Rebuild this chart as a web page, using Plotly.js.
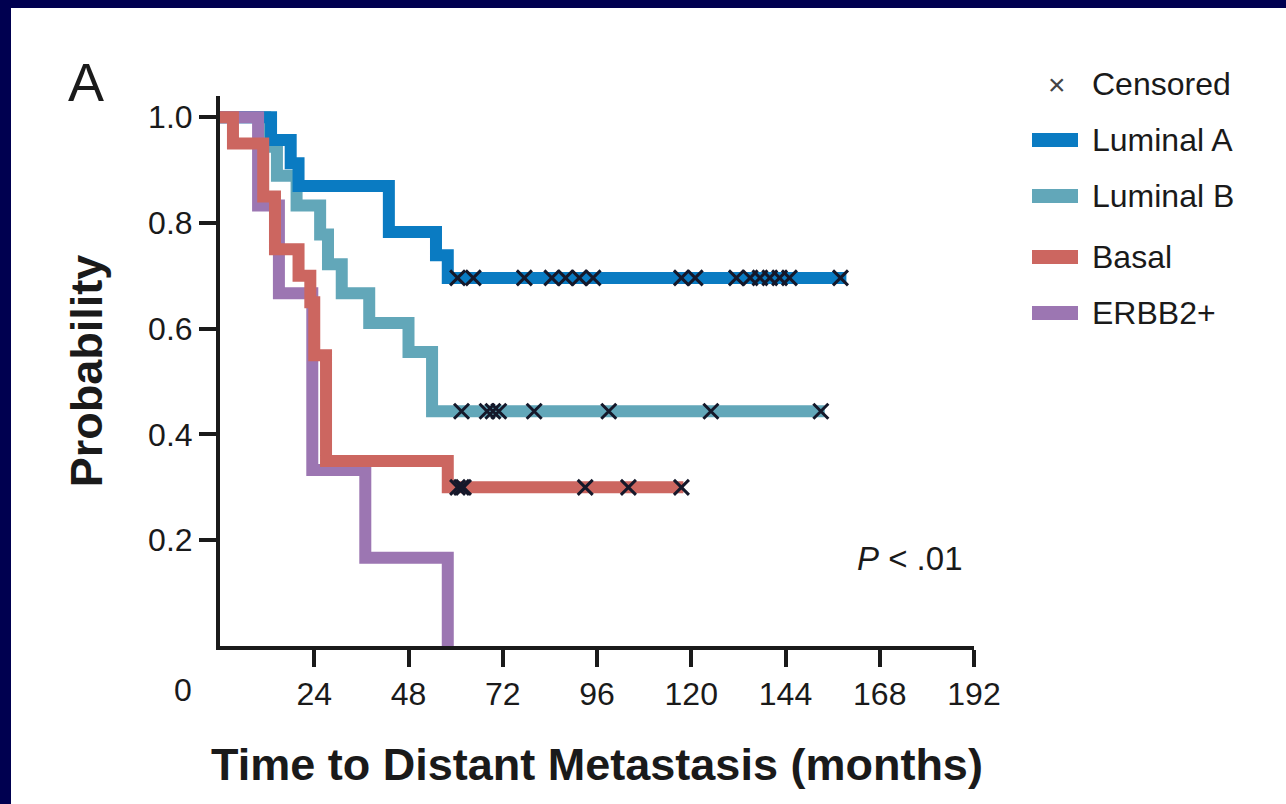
<!DOCTYPE html>
<html><head><meta charset="utf-8">
<script src="https://cdn.plot.ly/plotly-3.0.1.min.js"></script>
<style>
html,body{margin:0;padding:0;background:#000050;width:1286px;height:804px;overflow:hidden;}
#chart{position:absolute;left:11px;top:8px;width:1275px;height:796px;background:#fff;}
</style></head><body><div id="chart"></div>
<script>
// ---- data (months, survival probability) ----
const groups = ["Luminal A", "Luminal B", "Basal", "ERBB2+"];
const colors = ["#0a7bc2", "#62a7b9", "#cc6660", "#9c76b2"];

const lumA_t = [0, 13, 18, 20, 43, 55, 58, 159.5];
const lumA_s = [1.0, 0.957, 0.913, 0.870, 0.783, 0.739, 0.696, 0.696];
const lumA_cens = [60.5, 64.5, 77.5, 84.5, 88, 91.5, 95, 117.5, 121, 131.5, 135, 137.5, 140, 142.5, 145, 158];

const lumB_t = [0, 11.5, 14.5, 19.5, 25.5, 27.5, 31, 38, 48, 54, 154];
const lumB_s = [1.0, 0.944, 0.889, 0.833, 0.778, 0.722, 0.667, 0.611, 0.556, 0.444, 0.444];
const lumB_cens = [61.5, 68, 69.5, 71, 80, 99, 125, 153];

const basal_t = [0, 3.3, 11, 14, 20, 23, 24, 27, 58, 118];
const basal_s = [1.0, 0.95, 0.85, 0.75, 0.70, 0.65, 0.55, 0.35, 0.30, 0.30];
const basal_cens = [60.5, 61.5, 62, 93, 104, 117.5];

const erbb_t = [0, 9.7, 15, 23.5, 37, 58];
const erbb_s = [1.0, 0.833, 0.667, 0.333, 0.167, 0];

const xTickVals = [24, 48, 72, 96, 120, 144, 168, 192];
const yTickVals = [0.2, 0.4, 0.6, 0.8, 1.0];
const yTickText = ["0.2", "0.4", "0.6", "0.8", "1.0"];

// ---- helpers ----
function survAt(ts, ss, t) { let v = ss[0]; for (let i = 0; i < ts.length; i++) { if (ts[i] <= t) v = ss[i]; } return v; }
const titleFont = {family: '"Liberation Sans", Arial', size: 45, color: '#1a1a1a', weight: 'bold'};
const tickFont = {family: '"Liberation Sans", Arial', size: 32, color: '#1a1a1a'};
const dark = '#15182a';

// drawing order: Luminal B, Luminal A, ERBB2+, Basal (top)
const lineSets = [
  [lumB_t, lumB_s, 1],
  [lumA_t, lumA_s, 0],
  [erbb_t, erbb_s, 3],
  [basal_t, basal_s, 2]
];
const traces = lineSets.map(([t, s, gi]) => ({
  x: t, y: s, type: 'scatter', mode: 'lines', name: groups[gi],
  line: {shape: 'hv', width: 12, color: colors[gi]}, showlegend: false, hoverinfo: 'skip'
}));
const censSets = [[lumA_t, lumA_s, lumA_cens], [lumB_t, lumB_s, lumB_cens], [basal_t, basal_s, basal_cens]];
censSets.forEach(([t, s, c]) => {
  traces.push({
    x: c, y: c.map(v => survAt(t, s, v)), type: 'scatter', mode: 'markers', name: 'Censored',
    marker: {symbol: 'x-thin-open', size: 15, color: dark, line: {width: 3, color: dark}},
    showlegend: false, cliponaxis: false, hoverinfo: 'skip'
  });
});

// ---- layout ----
const W = 754, H = 550; // plot area px
const px = p => (p - 220) / W;   // page x -> paper
const py = p => (646 - p) / H;   // page y -> paper

const annotations = [
  {text: 'A', xref: 'paper', yref: 'paper', x: px(66), y: py(82), xanchor: 'left', yanchor: 'middle', showarrow: false,
   font: {family: '"Liberation Sans", Arial', size: 54, color: '#1a1a1a'}},
  {text: '0', xref: 'paper', yref: 'paper', x: px(183), y: py(690), xanchor: 'center', yanchor: 'middle', showarrow: false, font: tickFont},
  {text: '<i>P</i> < .01', xref: 'paper', yref: 'paper', x: px(855), y: py(558), xanchor: 'left', yanchor: 'middle', showarrow: false,
   font: {family: '"Liberation Sans", Arial', size: 33, color: '#1a1a1a'}},
  {text: '×', xref: 'paper', yref: 'paper', x: px(1057), y: py(84), xanchor: 'center', yanchor: 'middle', showarrow: false,
   font: {family: '"Liberation Sans", Arial', size: 30, color: '#444'}},
  {text: 'Censored', xref: 'paper', yref: 'paper', x: px(1090), y: py(84), xanchor: 'left', yanchor: 'middle', showarrow: false,
   font: {family: '"Liberation Sans", Arial', size: 32, color: '#1a1a1a'}}
];
const legendY = [140, 196, 257, 313];
const shapes = [];
groups.forEach((g, i) => {
  shapes.push({type: 'rect', xref: 'paper', yref: 'paper', x0: px(1032), x1: px(1078), y0: py(legendY[i] + 7), y1: py(legendY[i] - 7),
    fillcolor: colors[i], line: {width: 0}});
  annotations.push({text: g, xref: 'paper', yref: 'paper', x: px(1090), y: py(legendY[i]), xanchor: 'left', yanchor: 'middle', showarrow: false,
    font: {family: '"Liberation Sans", Arial', size: 32, color: '#1a1a1a'}});
});

const layout = {
  width: 1275, height: 796,
  margin: {l: 209, r: 312, t: 88, b: 158},
  paper_bgcolor: '#ffffff', plot_bgcolor: '#ffffff',
  showlegend: false,
  xaxis: {range: [0, 192], tickvals: xTickVals, ticktext: xTickVals.map(String), ticks: 'outside', ticklen: 17, tickwidth: 4, tickcolor: '#1a1a1a',
    showline: true, linewidth: 4, linecolor: '#1a1a1a', showgrid: false, zeroline: false, tickfont: tickFont,
    title: {text: 'Time to Distant Metastasis (months)', font: titleFont, standoff: 38}},
  yaxis: {range: [0, 1.04], tickvals: yTickVals, ticktext: yTickText, ticks: 'outside', ticklen: 17, tickwidth: 4, tickcolor: '#1a1a1a',
    showline: true, linewidth: 4, linecolor: '#1a1a1a', showgrid: false, zeroline: false, tickfont: tickFont,
    title: {text: 'Probability', font: titleFont, standoff: 32}},
  annotations: annotations,
  shapes: shapes
};
Plotly.newPlot('chart', traces, layout, {displayModeBar: false, staticPlot: true});
</script></body></html>
